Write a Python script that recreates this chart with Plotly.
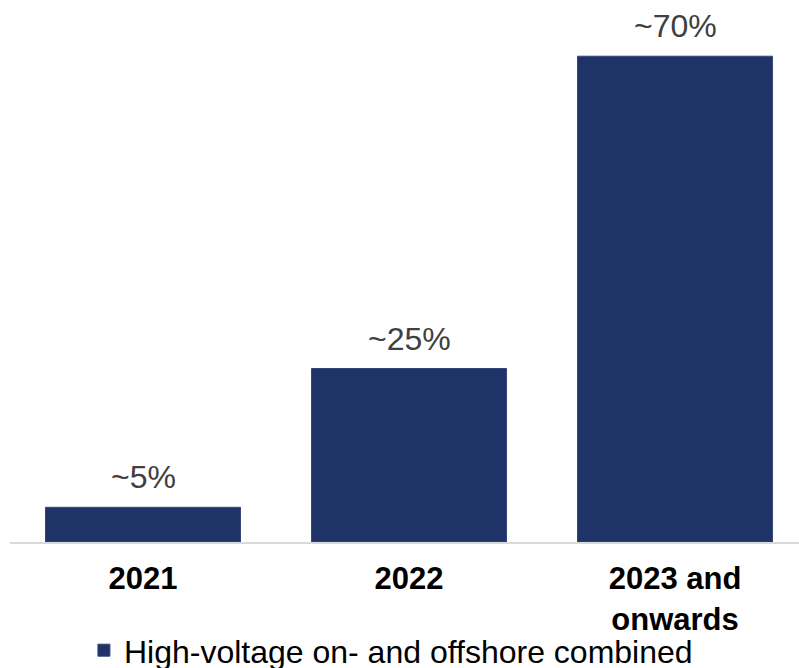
import plotly.graph_objects as go

categories = ["2021", "2022", "2023 and<br>onwards"]
values = [5, 25, 70]
labels = ["~5%", "~25%", "~70%"]
series_name = "High-voltage on- and offshore combined"

BAR_COLOR = "#1F3368"
FONT = "Arial, Liberation Sans, sans-serif"

fig = go.Figure()
fig.add_trace(go.Bar(
    x=categories, y=values, name=series_name,
    marker=dict(color=BAR_COLOR, line=dict(color="#34477A", width=1)),
    width=0.733, showlegend=True,
))

for i, (v, t) in enumerate(zip(values, labels)):
    fig.add_annotation(x=i, y=v, text=t, showarrow=False, yanchor="bottom",
                       yshift=10, font=dict(family=FONT, size=32, color="#404040"))

fig.update_layout(
    width=799, height=668,
    margin=dict(l=10, r=0, t=0, b=126, autoexpand=False),
    paper_bgcolor="white", plot_bgcolor="white",
    font=dict(family=FONT),
    showlegend=True,
    legend=dict(orientation="h", x=0.0937, xanchor="left", y=-0.2, yanchor="middle",
                bgcolor="rgba(0,0,0,0)",
                font=dict(family=FONT, size=32, color="#000000")),
    bargap=0.27,
)
fig.update_xaxes(
    type="category", range=[-0.5, 2.466], automargin=False,
    showline=True, linecolor="#D9D9D9", linewidth=2,
    ticks="", ticklabelstandoff=8,
    tickfont=dict(family=FONT, size=31, color="#000000", weight="bold"),
    showgrid=False, zeroline=False,
)
fig.update_yaxes(range=[0, 78.1], visible=False, showgrid=False, zeroline=False)

fig.write_html("out.html")
